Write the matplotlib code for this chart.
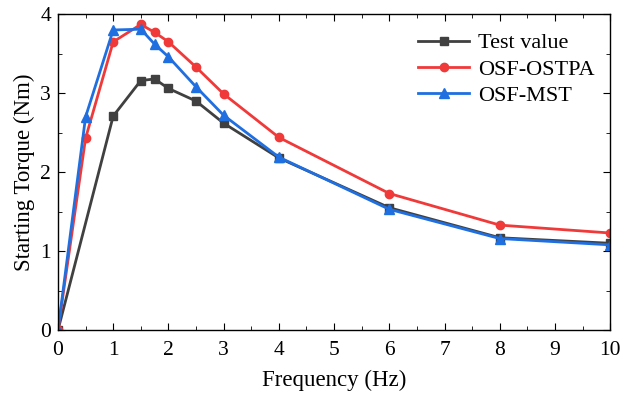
import matplotlib
matplotlib.use("Agg")
import matplotlib.pyplot as plt
from matplotlib.ticker import MultipleLocator

plt.rcParams['font.family'] = ['Liberation Serif', 'DejaVu Serif']
plt.rcParams['mathtext.fontset'] = 'stix'

freq_test = [0, 1, 1.5, 1.75, 2, 2.5, 3, 4, 6, 8, 10]
test_value = [0, 2.71, 3.16, 3.18, 3.06, 2.90, 2.62, 2.18, 1.55, 1.17, 1.10]

freq_sim = [0, 0.5, 1, 1.5, 1.75, 2, 2.5, 3, 4, 6, 8, 10]
osf_ostpa = [0, 2.43, 3.65, 3.87, 3.77, 3.65, 3.33, 2.99, 2.44, 1.73, 1.33, 1.23]
osf_mst = [0, 2.70, 3.80, 3.81, 3.62, 3.46, 3.08, 2.72, 2.19, 1.53, 1.16, 1.08]

fig = plt.figure(figsize=(6.37, 3.94), dpi=100)
ax = fig.add_axes([0.091, 0.162, 0.867, 0.802])

ax.plot(freq_test, test_value, color='#404040', marker='s', markersize=5.5, lw=2, label='Test value')
ax.plot(freq_sim, osf_ostpa, color='#f03a3a', marker='o', markersize=6, lw=2, label='OSF-OSTPA')
ax.plot(freq_sim, osf_mst, color='#1f6fe0', marker='^', markersize=6.5, lw=2, label='OSF-MST')

ax.set_xlim(0, 10)
ax.set_ylim(0, 4)
ax.xaxis.set_major_locator(MultipleLocator(1))
ax.xaxis.set_minor_locator(MultipleLocator(0.5))
ax.yaxis.set_major_locator(MultipleLocator(1))
ax.yaxis.set_minor_locator(MultipleLocator(0.5))
ax.tick_params(which='both', direction='in', top=True, right=True, labelsize=15.5)
ax.tick_params(which='major', length=5)
ax.tick_params(which='minor', length=3)
ax.tick_params(axis='x', which='major', pad=8)
ax.tick_params(axis='y', which='major', pad=5)
for s in ax.spines.values():
    s.set_linewidth(1.0)

ax.set_xlabel('Frequency (Hz)', fontsize=16.5, labelpad=7)
ax.set_ylabel('Starting Torque (Nm)', fontsize=16.5, labelpad=4)

ax.legend(loc='upper right', frameon=False, fontsize=16, handlelength=2.3,
          bbox_to_anchor=(1.0, 0.99), borderaxespad=0.3, labelspacing=0.25,
          handletextpad=0.4)

fig.savefig('out.png', dpi=100)
